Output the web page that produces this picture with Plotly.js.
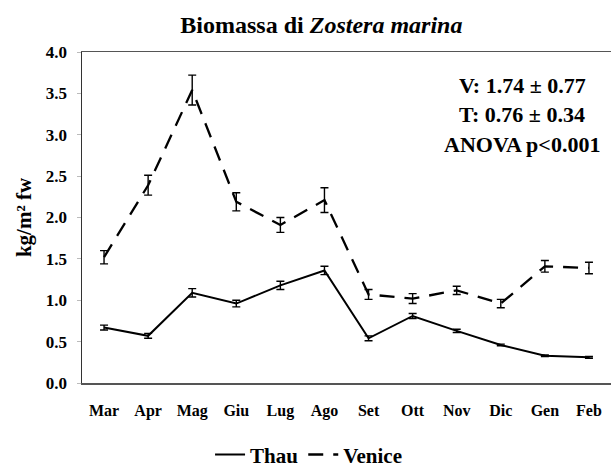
<!DOCTYPE html>
<html>
<head>
<meta charset="utf-8">
<script src="https://cdn.plot.ly/plotly-3.0.1.min.js"></script>
<style>html,body{margin:0;padding:0;background:#fff;}#chart{width:611px;height:467px;}</style>
</head>
<body>
<div id="chart"></div>
<script>
const months = ["Mar","Apr","Mag","Giu","Lug","Ago","Set","Ott","Nov","Dic","Gen","Feb"];
const thau = [0.67,0.57,1.09,0.96,1.18,1.36,0.54,0.81,0.63,0.46,0.33,0.31];
const thauErr = [0.03,0.03,0.05,0.04,0.05,0.05,0.03,0.03,0.02,0.01,0.01,0.01];
const venice = [1.52,2.39,3.54,2.19,1.91,2.21,1.07,1.02,1.12,0.96,1.41,1.39];
const veniceErr = [0.08,0.12,0.18,0.11,0.09,0.15,0.06,0.06,0.05,0.05,0.07,0.07];
const yTicks = [0,0.5,1,1.5,2,2.5,3,3.5,4];
const statsLines = ["V: 1.74 ± 0.77","T: 0.76 ± 0.34","ANOVA p<0.001"];
const statsY = [3.6, 3.24, 2.88];

const serif = 'Liberation Serif';
const traces = [
  {x: months, y: thau, name: "Thau", type: "scatter", mode: "lines",
   line: {color: "#000", width: 2},
   error_y: {type: "data", array: thauErr, visible: true, color: "#000", thickness: 1.4, width: 4}},
  {x: months, y: venice, name: "Venice", type: "scatter", mode: "lines",
   line: {color: "#000", width: 2.3, dash: "15px,10px"},
   error_y: {type: "data", array: veniceErr, visible: true, color: "#000", thickness: 1.4, width: 4}}
];
const layout = {
  width: 611, height: 467,
  margin: {l: 82, r: 0, t: 52, b: 84},
  paper_bgcolor: "#fff", plot_bgcolor: "#fff",
  title: {text: "<b>Biomassa di <i>Zostera marina</i></b>", font: {family: serif, size: 24, color: "#000"},
          xref: "container", x: 0.526, xanchor: "center", yref: "container", y: 0.948, yanchor: "middle"},
  xaxis: {type: "category", range: [-0.5, 11.5], showgrid: false, zeroline: false, automargin: false,
          showline: true, linecolor: "#555", linewidth: 1.5, mirror: true, ticks: "",
          tickfont: {family: serif, size: 16, color: "#000", weight: "bold"}, ticklabelstandoff: 12},
  yaxis: {range: [0, 4], tickvals: yTicks, tickformat: ".1f", showgrid: false, zeroline: false, automargin: false,
          showline: true, linecolor: "#333", linewidth: 1.5, ticks: "outside", ticklen: 4, tickcolor: "#bbb",
          tickfont: {family: serif, size: 17, color: "#000", weight: "bold"}, ticklabelstandoff: 6,
          title: {text: "<b>kg/m² fw</b>", font: {family: serif, size: 21, color: "#000"}, standoff: 8}},
  showlegend: true,
  legend: {orientation: "h", xref: "container", x: 0.505, xanchor: "center", yref: "container", y: 0.026, yanchor: "middle",
           font: {family: serif, size: 21, color: "#000", weight: "bold"}, itemwidth: 30, tracegroupgap: 0},
  annotations: statsLines.map((t, i) => ({
    text: "<b>" + t + "</b>", xref: "paper", yref: "y", x: 0.832, xanchor: "center",
    y: statsY[i], yanchor: "middle", showarrow: false,
    font: {family: serif, size: 22, color: "#000"}
  }))
};
Plotly.newPlot("chart", traces, layout, {displayModeBar: false, staticPlot: true});
</script>
</body>
</html>
